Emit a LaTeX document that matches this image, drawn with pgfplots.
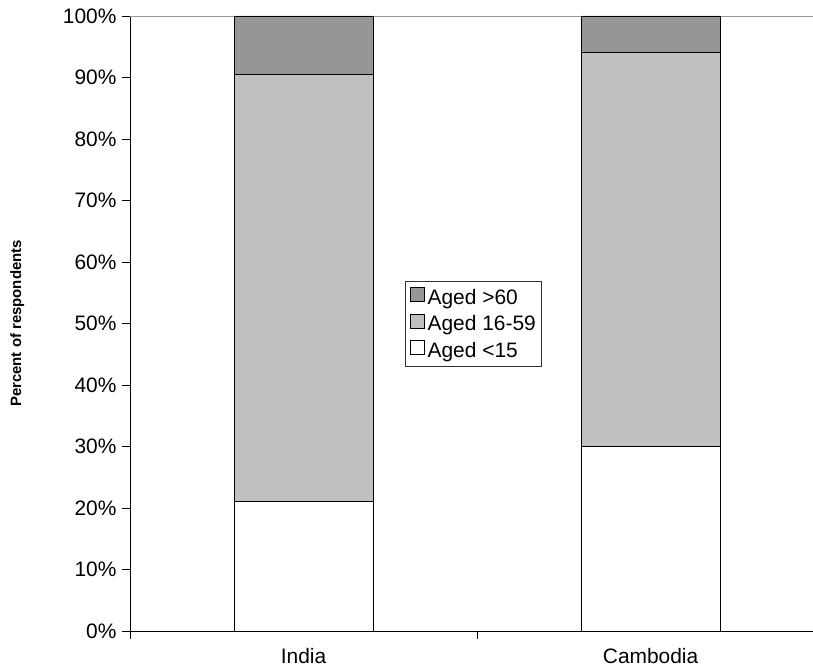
\documentclass[border=0pt]{standalone}
\usepackage{fontspec}
\setmainfont{Liberation Sans}
\usepackage{pgfplots}
\pgfplotsset{compat=1.18}
\definecolor{dgray}{RGB}{150,150,150}
\definecolor{lgray}{RGB}{192,192,192}
\pgfplotsset{mybar/.style={draw=black, line width=0.9pt,
  legend image code/.code={\draw[##1, draw=black, line width=0.7pt] (0bp,-4bp) rectangle (14bp,10bp);
     \path[draw=none, fill=none] (0bp,0bp) -- (16bp,0bp);}}}
\begin{document}
\begin{tikzpicture}
\begin{axis}[
 at={(0,0)}, anchor=south west,
 scale only axis, width=683bp, height=615bp,
 xmin=-0.5, xmax=1.468, ymin=0, ymax=100,
 ybar stacked, bar width=139bp,
 axis x line*=bottom, axis y line*=left,
 axis line style={black, line width=0.9pt, -},
 ytick={0,10,...,100},
 yticklabel={\pgfmathprintnumber{\tick}\%},
 /pgf/number format/assume math mode=true,
 tick align=outside, major tick length=8bp,
 tick style={black, line width=0.9pt},
 xtick={-0.5,0.5},
 xticklabels={},
 extra x ticks={0,1},
 extra x tick labels={India,Cambodia},
 extra x tick style={major tick length=0pt, xticklabel style={yshift=-14bp}},
 extra y ticks={100},
 extra y tick labels={},
 extra y tick style={grid=major, major grid style={gray!80, line width=0.9pt}, major tick length=0pt},
 ticklabel style={font=\fontsize{21}{24}\selectfont},
 yticklabel style={xshift=-2bp},
 ylabel={Percent of respondents},
 ylabel style={at={(axis description cs:-0.165,0.5)}, anchor=center, font=\fontsize{15}{17}\selectfont\bfseries},
 legend style={at={(axis description cs:0.503,0.5)}, anchor=center, draw=black!80, line width=0.7pt,
   font=\fontsize{21}{24}\selectfont, row sep=7bp, inner xsep=5bp, inner ysep=6bp,
   nodes={inner sep=1bp}},
 legend cell align=left,
 reverse legend,
]
\addplot[fill=white, mybar] coordinates {(0,21) (1,30)};
\addplot[fill=lgray, mybar] coordinates {(0,69.5) (1,64)};
\addplot[fill=dgray, mybar] coordinates {(0,9.5) (1,6)};
\legend{Aged <15, Aged 16-59, Aged >60}
\end{axis}
\pgfresetboundingbox
\path[use as bounding box] (-130bp,-41bp) rectangle (683bp,631bp);
\end{tikzpicture}
\end{document}
